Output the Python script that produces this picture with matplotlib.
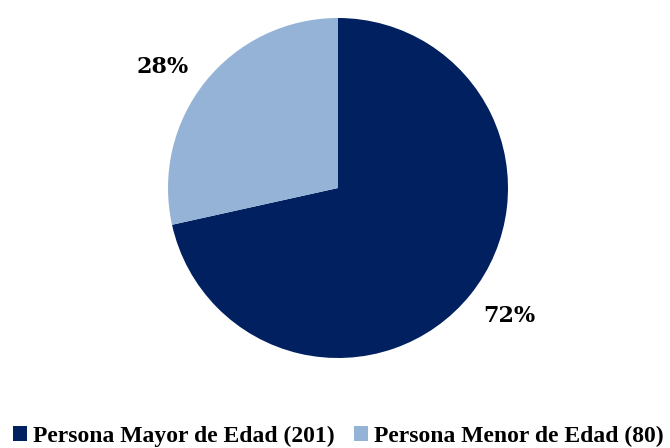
import matplotlib
matplotlib.use("Agg")
import matplotlib.pyplot as plt
from matplotlib.patches import Patch

categories = ["Persona Mayor de Edad (201)", "Persona Menor de Edad (80)"]
values = [201, 80]
pct_labels = ["72%", "28%"]
colors = ["#002060", "#95B3D7"]

W, H = 670, 448
fig = plt.figure(figsize=(W / 100, H / 100), dpi=100)
cx, cy, r = 338, 188, 170
ax = fig.add_axes([(cx - r) / W, (H - cy - r) / H, 2 * r / W, 2 * r / H])
ax.pie(values, colors=colors, startangle=90, counterclock=False,
       wedgeprops=dict(linewidth=0))
ax.set_xlim(-1, 1)
ax.set_ylim(-1, 1)
ax.set_aspect("equal")
ax.axis("off")

ax.text(1.01, -0.75, pct_labels[0], ha="center", va="center",
        fontsize=16, fontweight="bold", family="DejaVu Serif")
ax.text(-1.03, 0.71, pct_labels[1], ha="center", va="center",
        fontsize=16, fontweight="bold", family="DejaVu Serif")

handles = [Patch(facecolor=c, edgecolor="none") for c in colors]
fig.legend(handles, categories, loc="center", bbox_to_anchor=(0.505, 1 - 436 / H),
           ncol=2, frameon=False, handlelength=0.62, handleheight=0.62,
           handletextpad=0.25, columnspacing=0.8,
           prop=dict(family="Liberation Serif", weight="bold", size=17))

fig.savefig("out.png", dpi=100)
